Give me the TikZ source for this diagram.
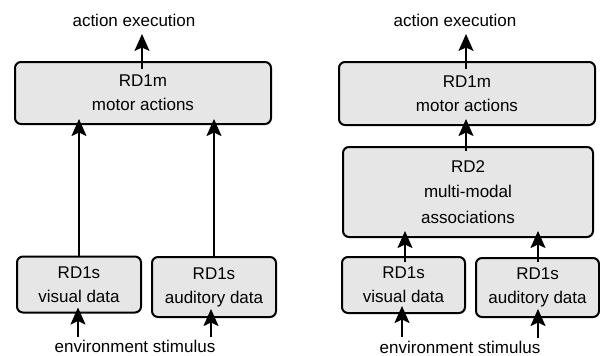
\documentclass[tikz,border=0pt]{standalone}
\usepackage{fontspec}
\setmainfont{Liberation Sans}
\usetikzlibrary{arrows.meta,calc}
\definecolor{boxfill}{HTML}{E6E6E6}
\tikzset{
  box/.style={draw=black, line width=2pt, fill=boxfill, rounded corners=6pt,
    align=center, inner sep=0pt, font=\fontsize{17}{24}\selectfont},
  lbl/.style={inner sep=0pt, font=\fontsize{17}{24}\selectfont},
  arr/.style={line width=2pt, -{Stealth[length=17pt,width=15pt,inset=3.5pt]}}
}
\begin{document}
\begin{tikzpicture}[x=1pt,y=-1pt]
\useasboundingbox (0,0) rectangle (600,356);
% ---------- left panel ----------
\node[lbl] (act1) at (134,20.5) {action execution};
\node[box, minimum width=256pt, minimum height=62pt] (mot1) at (143,93) {RD1m\\motor actions};
\node[box, minimum width=124pt, minimum height=56pt] (vis1) at (79,284.5) {RD1s\\visual data};
\node[box, minimum width=124pt, minimum height=60pt] (aud1) at (214,287) {RD1s\\auditory data};
\node[lbl] (env1) at (135,346) {environment stimulus};
\draw[arr] ($(mot1.north)+(-1,8)$) -- ($(act1.south -| mot1.north)+(-1,7)$);
\draw[arr] (vis1.north) -- ($(mot1.south -| vis1.north)+(0,-6)$);
\draw[arr] (aud1.north) -- ($(mot1.south -| aud1.north)+(0,-6)$);
\draw[arr] ($(env1.north -| vis1.south)+(-1,-3)$) -- ($(vis1.south)+(-1,-6)$);
\draw[arr] ($(env1.north -| aud1.south)+(-3,-3)$) -- ($(aud1.south)+(-3,-9)$);
% ---------- right panel ----------
\node[lbl] (act2) at (455,20.5) {action execution};
\node[box, minimum width=256pt, minimum height=63pt] (mot2) at (467,93.5) {RD1m\\motor actions};
\node[box, minimum width=250pt, minimum height=90pt, font=\fontsize{17}{25.5}\selectfont] (rd2) at (468,192) {RD2\\multi-modal\\associations};
\node[box, minimum width=123pt, minimum height=56pt] (vis2) at (403.5,285) {RD1s\\visual data};
\node[box, minimum width=123pt, minimum height=59pt] (aud2) at (537.5,287.5) {RD1s\\auditory data};
\node[lbl] (env2) at (460,347) {environment stimulus};
\draw[arr] ($(mot2.north)+(-1,8)$) -- ($(act2.south -| mot2.north)+(-1,7)$);
\draw[arr] ($(rd2.north)+(-2,5)$) -- ($(mot2.south)+(-1,-7)$);
\draw[arr] ($(vis2.north)+(1.5,6)$) -- ($(rd2.south -| vis2.north)+(1.5,-7)$);
\draw[arr] ($(aud2.north)+(0.5,5)$) -- ($(rd2.south -| aud2.north)+(0.5,-7)$);
\draw[arr] ($(env2.north -| vis2.south)+(-1.5,-4)$) -- ($(vis2.south)+(-1.5,-8)$);
\draw[arr] ($(env2.north -| aud2.south)+(0.5,-3)$) -- ($(aud2.south)+(0.5,-9)$);
\end{tikzpicture}
\end{document}
